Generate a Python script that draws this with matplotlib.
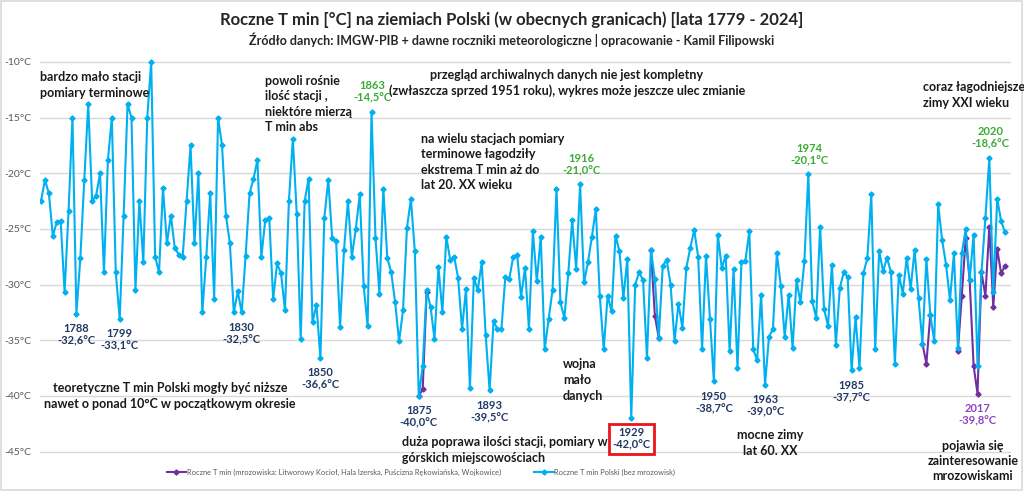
import numpy as np
import pandas as pd
import matplotlib
matplotlib.use("Agg")
import matplotlib.pyplot as plt
from matplotlib.lines import Line2D
from matplotlib.patches import Rectangle

plt.rcParams['font.family'] = ['Lato', 'DejaVu Sans']

# --- data -------------------------------------------------------------
years = list(range(1779, 2025))
tmin_polska = [
    -22.5, -20.6, -21.8, -25.6, -24.4, -24.3, -30.7, -23.4, -15.0, -32.6,   # 1779-1788
    -27.6, -20.6, -13.8, -22.5, -22.0, -20.0, -28.9, -18.8, -15.0, -28.9,   # 1789-1798
    -33.1, -23.8, -13.8, -15.0, -30.5, -22.5, -28.0, -15.0, -10.0, -27.5,   # 1799-1808
    -28.9, -21.3, -26.3, -23.8, -26.7, -27.3, -27.5, -22.5, -17.5, -26.3,   # 1809-1818
    -20.0, -32.5, -27.5, -21.8, -31.3, -15.0, -17.5, -23.8, -26.3, -32.5,   # 1819-1828
    -30.6, -32.5, -27.4, -21.8, -20.5, -18.8, -27.5, -24.2, -24.0, -31.3,   # 1829-1838
    -28.1, -29.0, -32.3, -22.5, -16.9, -23.7, -34.9, -22.5, -20.5, -33.4,   # 1839-1848
    -31.8, -36.6, -24.0, -20.6, -25.8, -26.1, -33.8, -26.9, -22.5, -27.5,   # 1849-1858
    -25.0, -21.9, -30.1, -33.7, -14.5, -25.8, -30.8, -21.4, -27.6, -28.9,   # 1859-1868
    -31.6, -35.1, -32.3, -24.9, -22.3, -27.0, -40.0, -37.3, -30.5, -32.0,   # 1869-1878
    -34.9, -28.4, -32.5, -25.7, -27.8, -27.5, -29.4, -34.0, -30.4, -39.3,   # 1879-1888
    -29.4, -30.5, -28.0, -34.5, -39.5, -33.3, -34.0, -34.0, -29.3, -29.5,   # 1889-1898
    -27.5, -27.3, -31.1, -28.5, -34.0, -25.2, -29.7, -25.7, -35.8, -33.1,   # 1899-1908
    -30.5, -21.4, -31.6, -33.0, -29.0, -24.2, -28.6, -21.0, -29.8, -28.0,   # 1909-1918
    -25.7, -23.2, -31.0, -35.8, -31.0, -32.4, -25.6, -27.0, -31.2, -27.7,   # 1919-1928
    -42.0, -30.0, -28.9, -29.6, -36.6, -26.9, -29.5, -34.8, -28.3, -27.8,   # 1929-1938
    -30.0, -35.1, -31.7, -33.9, -28.5, -26.7, -25.1, -27.5, -35.8, -27.4,   # 1939-1948
    -33.1, -38.7, -25.5, -28.5, -27.4, -36.0, -28.6, -37.5, -28.0, -27.9,   # 1949-1958
    -25.2, -35.8, -36.8, -30.9, -39.0, -34.7, -34.0, -27.2, -30.1, -34.7,   # 1959-1968
    -30.9, -35.7, -29.6, -31.6, -27.9, -20.1, -31.5, -33.0, -24.8, -32.2,   # 1969-1978
    -33.7, -28.2, -35.4, -30.3, -28.9, -29.3, -37.7, -32.9, -37.5, -29.0,   # 1979-1988
    -27.6, -21.9, -35.8, -27.0, -28.8, -27.6, -28.9, -37.1, -29.1, -30.8,   # 1989-1998
    -27.6, -30.4, -26.9, -31.2, -35.3, -27.7, -32.7, -35.1, -22.8, -26.0,   # 1999-2008
    -28.2, -31.4, -27.2, -35.7, -27.2, -25.0, -29.6, -25.5, -37.3, -28.9,   # 2009-2018
    -24.0, -18.6, -30.7, -22.3, -24.3, -25.3,                               # 2019-2024
]

mroz_years = [1875, 1876, 1877,
              1934, 1935, 1936,
              2003, 2004, 2005,
              2012, 2013, 2014, 2015, 2016, 2017, 2018, 2019, 2020, 2021, 2022, 2023, 2024]
mroz_values = [-40.0, -39.4, -30.7,
               -26.9, -32.8, -34.8,
               -35.3, -37.1, -32.7,
               -36.0, -31.0, -25.8, -29.6, -37.3, -39.8, -28.9, -31.0, -24.8, -32.0, -26.8, -29.0, -28.3]

# labelled extremes
zimne_lata = [1788, 1799, 1830, 1850, 1875, 1893, 1929, 1950, 1963, 1985]
cieple_lata = [1863, 1916, 1974, 2020]
mroz_rekord = 2017

yticks = [-10, -15, -20, -25, -30, -35, -40, -45]
ytick_labels = [f"{t}°C" for t in yticks]

# --- series -----------------------------------------------------------
polska = pd.Series(tmin_polska, index=years)
mroz = pd.Series(mroz_values, index=mroz_years).reindex(years)

BLUE = '#00B0F0'
PURPLE = '#7030A0'
NAVY = '#203864'
GREEN = '#3AAA35'
GREY = '#595959'

W, H = 1024, 491
fig = plt.figure(figsize=(W / 100, H / 100), dpi=100)
fig.patch.set_facecolor('white')

# axes placed in pixel layout of the reference
ax_left, ax_right, ax_top, ax_bottom = 40, 1011, 55, 455
ax = fig.add_axes([ax_left / W, 1 - ax_bottom / H,
                   (ax_right - ax_left) / W, (ax_bottom - ax_top) / H])
ppy = 3.935
x0 = 1779 - 1 / ppy
ax.set_xlim(x0, x0 + (ax_right - ax_left) / ppy)
ppd = 11.13
ax.set_ylim(-10 + (62 - ax_bottom) / ppd, -10 + (62 - ax_top) / ppd)

ax.plot(mroz.index, mroz.values, color=PURPLE, lw=1.5, marker='D', ms=2.6, zorder=2,
        label='Roczne T min (mrozowiska: Litworowy Kocioł, Hala Izerska, Puścizna Rękowiańska, Wojkowice)')
ax.plot(polska.index, polska.values, color=BLUE, lw=1.5, marker='D', ms=2.6, zorder=3,
        label='Roczne T min Polski (bez mrozowisk)')

ax.set_yticks(yticks)
ax.set_yticklabels(ytick_labels, fontsize=7.5, color=GREY)
ax.set_xticks([])
ax.grid(axis='y', color='#D9D9D9', lw=1)
ax.set_axisbelow(True)
ax.tick_params(axis='y', length=0, pad=6)
for s in ax.spines.values():
    s.set_visible(False)


def fmt(year, val):
    return f"{year}\n{val:.1f}°C".replace('.', ',')


for y in zimne_lata:
    kw = {}
    if y == 1929:
        kw['bbox'] = dict(boxstyle='square,pad=0.3', fc='white', ec='#E8161B', lw=2)
    ax.annotate(fmt(y, polska[y]), (y, polska[y]), xytext=(0, -21), textcoords='offset pixels',
                ha='center', va='center', fontsize=8, fontweight='bold', color=NAVY,
                linespacing=1.15, zorder=5, **kw)
for y in cieple_lata:
    ax.annotate(fmt(y, polska[y]), (y, polska[y]), xytext=(1, 20), textcoords='offset pixels',
                ha='center', va='center', fontsize=8, fontweight='bold', color=GREEN,
                linespacing=1.15, zorder=5)
ax.annotate(fmt(mroz_rekord, mroz[mroz_rekord]), (mroz_rekord, mroz[mroz_rekord]),
            xytext=(0, -21), textcoords='offset pixels', ha='center', va='center',
            fontsize=8, fontweight='bold', color='#8E44C0', linespacing=1.15, zorder=5)


def ftext(x, y, s, ha='left', size=9):
    fig.text(x / W, 1 - y / H, s, ha=ha, va='center', fontsize=size, fontweight='bold',
             color='#1A1A1A', linespacing=1.35)


# titles
fig.text(512 / W, 1 - 20 / H, 'Roczne T min [°C] na ziemiach Polski (w obecnych granicach) [lata 1779 - 2024]',
         ha='center', va='center', fontsize=12, fontweight='bold', color='#262626')
fig.text(512 / W, 1 - 40 / H, 'Źródło danych: IMGW-PIB + dawne roczniki meteorologiczne | opracowanie - Kamil Filipowski',
         ha='center', va='center', fontsize=9, fontweight='bold', color='#262626')

# comments
ftext(40, 85, 'bardzo mało stacji\npomiary terminowe')
ftext(265, 104, 'powoli rośnie\nilość stacji ,\nniektóre mierzą\nT min abs')
ftext(567, 83, 'przegląd archiwalnych danych nie jest kompletny\n(zwłaszcza sprzed 1951 roku), wykres może jeszcze ulec zmianie', ha='center')
ftext(421, 162, 'na wielu stacjach pomiary\nterminowe łagodziły\nekstrema T min aż do\nlat 20. XX wieku')
ftext(923, 95, 'coraz łagodniejsze\nzimy XXI wieku')
ftext(170, 396, 'teoretyczne T min Polski mogły być niższe\nnawet o ponad 10°C w początkowym okresie', ha='center')
ftext(402, 450, 'duża poprawa ilości stacji, pomiary w\ngórskich miejscowościach')
ftext(563, 380, 'wojna\nmało\ndanych')
ftext(770, 443, 'mocne zimy\nlat 60. XX', ha='center')
ftext(973, 461, 'pojawia się\nzainteresowanie\nmrozowiskami', ha='center')

# legend
handles = [Line2D([], [], color=PURPLE, lw=1.5, marker='D', ms=2.6),
           Line2D([], [], color=BLUE, lw=1.5, marker='D', ms=2.6)]
labels = [h.get_label() for h in ax.get_lines()]
fig.legend(handles, labels, loc='center', bbox_to_anchor=(421 / W, 1 - 472 / H), ncol=2,
           frameon=False, labelcolor=GREY, handlelength=2.6, handletextpad=0.1,
           columnspacing=4.4, prop={'size': 5.4})

fig.patches.append(Rectangle((0.001, 0.002), 0.997, 0.996, transform=fig.transFigure,
                             fill=False, ec='#D9D9D9', lw=1.2))

fig.savefig('out.png', dpi=100)
